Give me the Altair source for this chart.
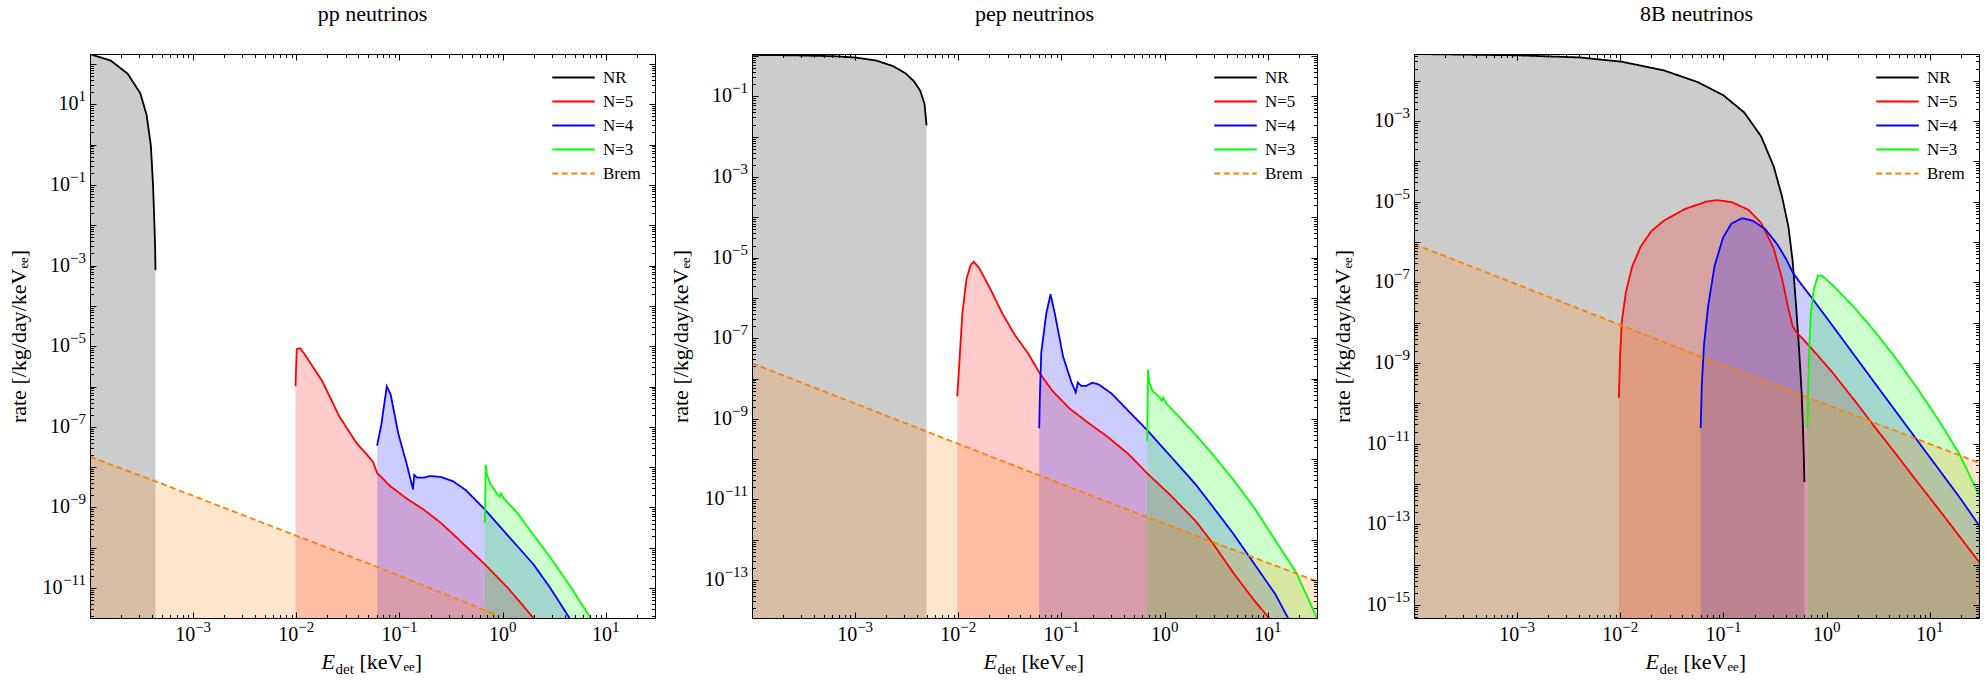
import altair as alt
import pandas as pd

FONT = "Liberation Serif"
W, H = 565, 564

SERIES = ["NR", "N=5", "N=4", "N=3", "Brem"]
LINE_COLORS = ["#000000", "#ff0000", "#0000ff", "#00ff00", "#ff8000"]
DASHES = [[1, 0], [1, 0], [1, 0], [1, 0], [6, 3.5]]
TITLES = ["pp neutrinos", "pep neutrinos", "8B neutrinos"]
X_DOMAIN_LOG = [-4.0, 1.477]
Y_DOMAIN_LOG = [[-11.74, 2.245], [-13.94, 0.052], [-15.32, -1.339]]

# curves: (log10 E_det [keVee], log10 rate)
PP_NR = [(-4.0, 2.243), (-3.799, 2.081), (-3.635, 1.757), (-3.512, 1.27), (-3.451, 0.73),
         (-3.41, -0.027), (-3.389, -1.0), (-3.377, -1.865), (-3.369, -2.51), (-3.365, -3.108)]
PP_N5 = [(-2.008, -5.995), (-1.996, -5.076), (-1.963, -5.05), (-1.914, -5.22), (-1.75, -5.86),
         (-1.586, -6.73), (-1.422, -7.38), (-1.258, -7.86), (-1.217, -8.14), (-1.094, -8.46),
         (-0.93, -8.78), (-0.766, -9.05), (-0.60, -9.38), (-0.439, -9.76), (-0.172, -10.41),
         (0.053, -11.0), (0.299, -11.74), (0.381, -12.03)]
PP_N4 = [(-1.217, -7.465), (-1.176, -6.946), (-1.123, -5.995), (-1.086, -6.19), (-1.012, -7.16),
         (-0.93, -7.92), (-0.869, -8.55), (-0.857, -8.19), (-0.828, -8.26), (-0.766, -8.26),
         (-0.705, -8.22), (-0.602, -8.24), (-0.48, -8.35), (-0.357, -8.57), (-0.172, -9.05),
         (0.053, -9.70), (0.299, -10.41), (0.463, -11.0), (0.648, -11.74), (0.709, -11.97)]
PP_N3 = [(-0.172, -9.38), (-0.164, -7.94), (-0.152, -8.19), (-0.119, -8.41), (-0.049, -8.68),
         (-0.029, -8.73), (-0.016, -8.65), (0.012, -8.78), (0.135, -9.11), (0.258, -9.54),
         (0.463, -10.24), (0.668, -11.0), (0.852, -11.74), (0.893, -11.9)]
PP_BREM = [(-4.0, -7.74), (-3.365, -8.35), (-2.0, -9.70), (-1.217, -10.47), (-0.172, -11.55),
           (-0.05, -11.66)]

PEP_NR = [(-4.0, 0.03), (-3.611, 0.019), (-3.204, -0.003), (-3.0, -0.035), (-2.796, -0.11),
          (-2.633, -0.249), (-2.511, -0.43), (-2.43, -0.625), (-2.369, -0.86), (-2.328, -1.18),
          (-2.308, -1.72)]
PEP_N5 = [(-2.010, -8.44), (-1.994, -7.78), (-1.961, -6.38), (-1.921, -5.53), (-1.880, -5.18),
          (-1.851, -5.10), (-1.798, -5.26), (-1.697, -5.74), (-1.574, -6.38), (-1.452, -6.92),
          (-1.330, -7.35), (-1.208, -7.88), (-1.086, -8.31), (-0.923, -8.74), (-0.760, -9.06),
          (-0.556, -9.44), (-0.352, -9.87), (-0.169, -10.35), (0.055, -10.89), (0.299, -11.53),
          (0.462, -12.07), (0.666, -12.82), (0.870, -13.51), (1.012, -13.94), (1.053, -14.1)]
PEP_N4 = [(-1.216, -9.23), (-1.208, -8.31), (-1.196, -7.35), (-1.147, -6.38), (-1.106, -5.91),
          (-1.065, -6.38), (-0.984, -7.46), (-0.902, -8.10), (-0.862, -8.34), (-0.841, -8.10),
          (-0.809, -8.18), (-0.760, -8.18), (-0.699, -8.10), (-0.637, -8.15), (-0.515, -8.37),
          (-0.352, -8.80), (-0.169, -9.28), (0.055, -9.92), (0.299, -10.62), (0.462, -11.16),
          (0.666, -11.85), (0.870, -12.60), (1.073, -13.35), (1.196, -13.94), (1.236, -14.1)]
PEP_N3 = [(-0.169, -9.55), (-0.161, -7.78), (-0.149, -8.10), (-0.116, -8.31), (-0.047, -8.47),
          (-0.026, -8.55), (-0.014, -8.47), (0.014, -8.61), (0.136, -8.94), (0.299, -9.39),
          (0.462, -9.87), (0.666, -10.51), (0.870, -11.21), (1.073, -12.01), (1.277, -12.82),
          (1.477, -13.94)]
PEP_BREM = [(-4.0, -7.62), (-2.0, -9.62), (-0.17, -11.44), (1.477, -13.03)]

B8_NR = [(-4.0, -1.339), (-3.008, -1.371), (-2.395, -1.424), (-1.986, -1.53), (-1.577, -1.746),
         (-1.25, -2.035), (-1.004, -2.357), (-0.80, -2.786), (-0.636, -3.375), (-0.513, -4.125),
         (-0.432, -4.876), (-0.37, -5.626), (-0.329, -6.483), (-0.297, -7.555), (-0.268, -8.627),
         (-0.243, -9.699), (-0.227, -10.77), (-0.215, -11.95)]
B8_N5 = [(-2.014, -9.86), (-2.002, -8.84), (-1.986, -7.98), (-1.945, -7.23), (-1.883, -6.59),
         (-1.802, -6.11), (-1.699, -5.73), (-1.577, -5.47), (-1.372, -5.18), (-1.168, -5.0),
         (-1.065, -4.96), (-0.922, -5.01), (-0.759, -5.2), (-0.636, -5.52), (-0.513, -6.16),
         (-0.432, -6.91), (-0.37, -7.66), (-0.329, -8.09), (-0.288, -8.25), (-0.227, -8.41),
         (-0.104, -8.76), (0.059, -9.24), (0.305, -10.04), (0.468, -10.59), (0.673, -11.26),
         (0.877, -11.94), (1.082, -12.61), (1.286, -13.29), (1.477, -13.93)]
B8_N4 = [(-1.221, -10.61), (-1.209, -9.48), (-1.188, -8.52), (-1.147, -7.56), (-1.086, -6.59),
         (-1.004, -5.89), (-0.922, -5.54), (-0.820, -5.41), (-0.718, -5.47), (-0.595, -5.68),
         (-0.472, -6.08), (-0.391, -6.43), (-0.329, -6.75), (-0.268, -6.97), (-0.145, -7.38),
         (0.059, -8.08), (0.468, -9.50), (0.877, -10.91), (1.286, -12.32), (1.477, -13.02)]
B8_N3 = [(-0.186, -10.61), (-0.174, -8.95), (-0.153, -7.77), (-0.125, -7.18), (-0.084, -6.83),
         (-0.043, -6.84), (0.059, -7.07), (0.264, -7.61), (0.468, -8.22), (0.673, -8.89),
         (0.877, -9.62), (1.082, -10.40), (1.286, -11.25), (1.477, -12.27)]
B8_BREM = [(-4.0, -6.05), (-2.014, -8.04), (-1.221, -8.84), (-0.207, -9.83), (1.477, -11.47)]

PANELS = [
    [PP_NR, PP_N5, PP_N4, PP_N3, PP_BREM],
    [PEP_NR, PEP_N5, PEP_N4, PEP_N3, PEP_BREM],
    [B8_NR, B8_N5, B8_N4, B8_N3, B8_BREM],
]

Y_TITLE = "rate [/kg/day/keV\u2091\u2091]"

X_LABEL_EXPS = [-3, -2, -1, 0, 1]
Y_LABEL_EXPS = [[1, -1, -3, -5, -7, -9, -11],
                [-1, -3, -5, -7, -9, -11, -13],
                [-3, -5, -7, -9, -11, -13, -15]]

BASE_FS, EXP_FS = 20, 15
EXP_W = {1: 7.5, 2: 16.0, 3: 23.5}   # approx. width of exponent strings by length
W10 = 20.0


def exp_str(e):
    return str(e).replace("-", "\u2212")


def decades(lo, hi):
    import math
    majors, minors = [], []
    for k in range(math.floor(lo) - 1, math.ceil(hi) + 1):
        v = 10.0 ** k
        if 10 ** lo * 1.0001 < v < 10 ** hi * 0.9999:
            majors.append(v)
        for m in range(2, 10):
            mv = m * 10.0 ** k
            if 10 ** lo < mv < 10 ** hi:
                minors.append(mv)
    return majors, minors


COMMON = dict(grid=False, zindex=1, domainColor="black", tickColor="black",
              domainWidth=1, tickWidth=1, title=None)

LEG = dict(orient="top-right", offset=10, title=None,
           symbolType="M-2.5,0H2.5", symbolSize=289, symbolStrokeWidth=2,
           labelFont=FONT, labelFontSize=17, labelOffset=20, rowPadding=6,
           padding=4, labelColor="black")


def panel(p):
    ylo, yhi = Y_DOMAIN_LOG[p]
    rows = []
    for s, curve in zip(SERIES, PANELS[p]):
        for i, (le, lr) in enumerate(curve):
            rows.append({"series": s, "E": 10 ** le, "rate": 10 ** lr,
                         "base": 10 ** ylo, "idx": i})
    df = pd.DataFrame(rows)
    corners = pd.DataFrame({"E": [10 ** X_DOMAIN_LOG[0], 10 ** X_DOMAIN_LOG[1]],
                            "rate": [10 ** ylo, 10 ** yhi]})

    xs = alt.Scale(type="log", domain=[10 ** X_DOMAIN_LOG[0], 10 ** X_DOMAIN_LOG[1]], nice=False)
    ys = alt.Scale(type="log", domain=[10 ** ylo, 10 ** yhi], nice=False)
    xmaj, xmin = decades(*X_DOMAIN_LOG)
    ymaj, ymin = decades(ylo, yhi)

    # fill scale uses a reversed domain order so that its (disabled) legend is not merged
    area = alt.Chart(df).mark_area(clip=True, opacity=0.2).encode(
        x=alt.X("E:Q", scale=xs, axis=None),
        y=alt.Y("rate:Q", scale=ys, axis=None, stack=None),
        y2="base:Q",
        fill=alt.Fill("series:N", scale=alt.Scale(domain=SERIES[::-1], range=LINE_COLORS[::-1]),
                      legend=None),
    )
    line = alt.Chart(df).mark_line(clip=True, strokeWidth=1.8).encode(
        x=alt.X("E:Q", scale=xs, axis=None),
        y=alt.Y("rate:Q", scale=ys, axis=None),
        stroke=alt.Stroke("series:N", scale=alt.Scale(domain=SERIES, range=LINE_COLORS),
                          legend=alt.Legend(**LEG)),
        strokeDash=alt.StrokeDash("series:N", scale=alt.Scale(domain=SERIES, range=DASHES),
                                  legend=alt.Legend(**LEG)),
        order="idx:Q",
    )

    def axl(xa, ya):
        return alt.Chart(corners).mark_point(opacity=0, size=0).encode(
            x=alt.X("E:Q", scale=xs, axis=xa),
            y=alt.Y("rate:Q", scale=ys, axis=ya),
        )

    axA = axl(
        alt.Axis(orient="bottom", values=xmaj, labels=False, ticks=False, tickSize=0, **COMMON),
        alt.Axis(orient="left", values=ymaj, labels=False, ticks=False, tickSize=0,
                 **{**COMMON, "title": Y_TITLE}, titleFont=FONT, titleFontSize=22,
                 titleFontWeight="normal", titleColor="black", titleX=-60, titleY=H / 2),
    )
    axB = axl(
        alt.Axis(orient="top", offset=-H, values=xmaj, labels=False, domain=False, tickSize=6, **COMMON),
        alt.Axis(orient="right", offset=-W, values=ymaj, labels=False, domain=False, tickSize=6, **COMMON),
    )
    axC = axl(
        alt.Axis(orient="top", offset=-H, values=xmin, labels=False, domain=False, tickSize=3.5, **COMMON),
        alt.Axis(orient="right", offset=-W, values=ymin, labels=False, domain=False, tickSize=3.5, **COMMON),
    )
    axD = axl(
        alt.Axis(orient="bottom", offset=-H, values=xmaj, labels=False, domain=True, tickSize=6, **COMMON),
        alt.Axis(orient="left", offset=-W, values=ymaj, labels=False, domain=True, tickSize=6, **COMMON),
    )
    axE = axl(
        alt.Axis(orient="bottom", offset=-H, values=xmin, labels=False, domain=False, tickSize=3.5, **COMMON),
        alt.Axis(orient="left", offset=-W, values=ymin, labels=False, domain=False, tickSize=3.5, **COMMON),
    )

    # tick labels "10" + raised exponent, positioned through the scales
    label_layers = []
    xl = pd.DataFrame({"v": [10.0 ** e for e in X_LABEL_EXPS],
                       "ex": [exp_str(e) for e in X_LABEL_EXPS]})
    xl["n"] = xl["ex"].str.len()
    for n, g in xl.groupby("n"):
        sh = (W10 - EXP_W[n]) / 2
        label_layers.append(alt.Chart(g).mark_text(
            font=FONT, fontSize=BASE_FS, align="right", baseline="middle", dx=sh, color="black"
        ).encode(x=alt.X("v:Q", scale=xs, axis=None), y=alt.value(H + 17), text=alt.value("10")))
        label_layers.append(alt.Chart(g).mark_text(
            font=FONT, fontSize=EXP_FS, align="left", baseline="middle", dx=sh, color="black"
        ).encode(x=alt.X("v:Q", scale=xs, axis=None), y=alt.value(H + 9), text="ex:N"))
    yl = pd.DataFrame({"v": [10.0 ** e for e in Y_LABEL_EXPS[p]],
                       "ex": [exp_str(e) for e in Y_LABEL_EXPS[p]]})
    yl["n"] = yl["ex"].str.len()
    for n, g in yl.groupby("n"):
        label_layers.append(alt.Chart(g).mark_text(
            font=FONT, fontSize=BASE_FS, align="right", baseline="middle",
            dx=-(4 + EXP_W[n]), color="black"
        ).encode(y=alt.Y("v:Q", scale=ys, axis=None), x=alt.value(0), text=alt.value("10")))
        label_layers.append(alt.Chart(g).mark_text(
            font=FONT, fontSize=EXP_FS, align="right", baseline="middle",
            dx=-4, dy=-8, color="black"
        ).encode(y=alt.Y("v:Q", scale=ys, axis=None), x=alt.value(0), text="ex:N"))

    one = pd.DataFrame({"k": [0]})
    ty = H + 51
    t1 = alt.Chart(one).mark_text(font=FONT, fontSize=22, fontStyle="italic", align="left",
                                  baseline="alphabetic", color="black").encode(
        x=alt.value(W / 2 - 51), y=alt.value(ty), text=alt.value("E"))
    t2 = alt.Chart(one).mark_text(font=FONT, fontSize=15, align="left",
                                  baseline="alphabetic", color="black").encode(
        x=alt.value(W / 2 - 37), y=alt.value(ty + 5), text=alt.value("det"))
    t3 = alt.Chart(one).mark_text(font=FONT, fontSize=22, align="left",
                                  baseline="alphabetic", color="black").encode(
        x=alt.value(W / 2 - 13), y=alt.value(ty), text=alt.value("[keV\u2091\u2091]"))

    return alt.layer(area, line, axA, axB, axC, axD, axE, *label_layers, t1, t2, t3).resolve_axis(
        x="independent", y="independent"
    ).properties(
        width=W, height=H,
        title=alt.TitleParams(TITLES[p], font=FONT, fontSize=22, fontWeight="normal",
                              anchor="middle", frame="group", offset=28,
                              color="black"),
    )


chart = alt.hconcat(panel(0), panel(1), panel(2), spacing=12).resolve_scale(
    x="independent", y="independent", stroke="independent",
    strokeDash="independent", fill="independent",
).resolve_legend(stroke="independent", strokeDash="independent").properties(
    padding={"left": 6, "top": 2, "right": 4, "bottom": 0}
).configure_view(stroke=None).configure(font=FONT)

chart.save("out.html", embed_options={"renderer": "svg", "actions": False})
